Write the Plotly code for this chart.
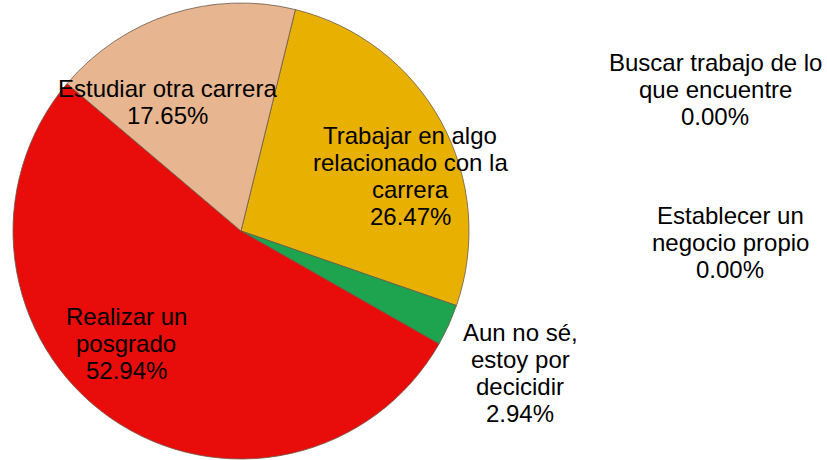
import plotly.graph_objects as go

# Data
labels = ["Trabajar en algo relacionado con la carrera", "Aun no sé, estoy por decicidir",
          "Realizar un posgrado", "Estudiar otra carrera",
          "Buscar trabajo de lo que encuentre", "Establecer un negocio propio"]
values = [9, 1, 18, 6, 0, 0]
label_lines = [["Trabajar en algo", "relacionado con la", "carrera"],
               ["Aun no sé,", "estoy por", "decicidir"],
               ["Realizar un", "posgrado"],
               ["Estudiar otra carrera"],
               ["Buscar trabajo de lo", "que encuentre"],
               ["Establecer un", "negocio propio"]]
colors = ["#E8B000", "#1EA34E", "#E80C0A", "#E7B590", "#4472C4", "#A5A5A5"]

W, H = 827, 460
total = sum(values)
pcts = [100.0 * v / total for v in values]

# label anchor (centre x, first-line centre y) in pixels
label_pos = [(410, 135), (520, 332), (126, 316), (167, 88), (715, 62), (730, 215)]
LINE = 27.3

pie_vals = [v for v in values if v > 0]
pie_labels = [l for l, v in zip(labels, values) if v > 0]
pie_colors = [c for c, v in zip(colors, values) if v > 0]

cx, cy, r = 241, 231, 228
fig = go.Figure(go.Pie(
    labels=pie_labels, values=pie_vals, sort=False, direction="clockwise",
    rotation=13.8, textinfo="none", hoverinfo="label+percent",
    marker=dict(colors=pie_colors, line=dict(color="#6b5a4a", width=0.8)),
    domain=dict(x=[(cx - r) / W, (cx + r) / W], y=[(H - cy - r) / H, (H - cy + r) / H]),
    showlegend=False,
))

annotations = []
for lines, p, (x, y0) in zip(label_lines, pcts, label_pos):
    all_lines = lines + [f"{p:.2f}%"]
    for i, t in enumerate(all_lines):
        y = y0 + i * LINE
        annotations.append(dict(
            x=x / W, y=1 - y / H, xref="paper", yref="paper", text=t,
            showarrow=False, xanchor="center", yanchor="middle",
            font=dict(family="Arial, Liberation Sans, sans-serif", size=24, color="#000000"),
        ))

fig.update_layout(
    width=W, height=H, margin=dict(l=0, r=0, t=0, b=0),
    paper_bgcolor="white", plot_bgcolor="white",
    annotations=annotations,
)
fig.write_html("out.html", config={"displayModeBar": False},
               post_script="document.body.style.margin='0';")
